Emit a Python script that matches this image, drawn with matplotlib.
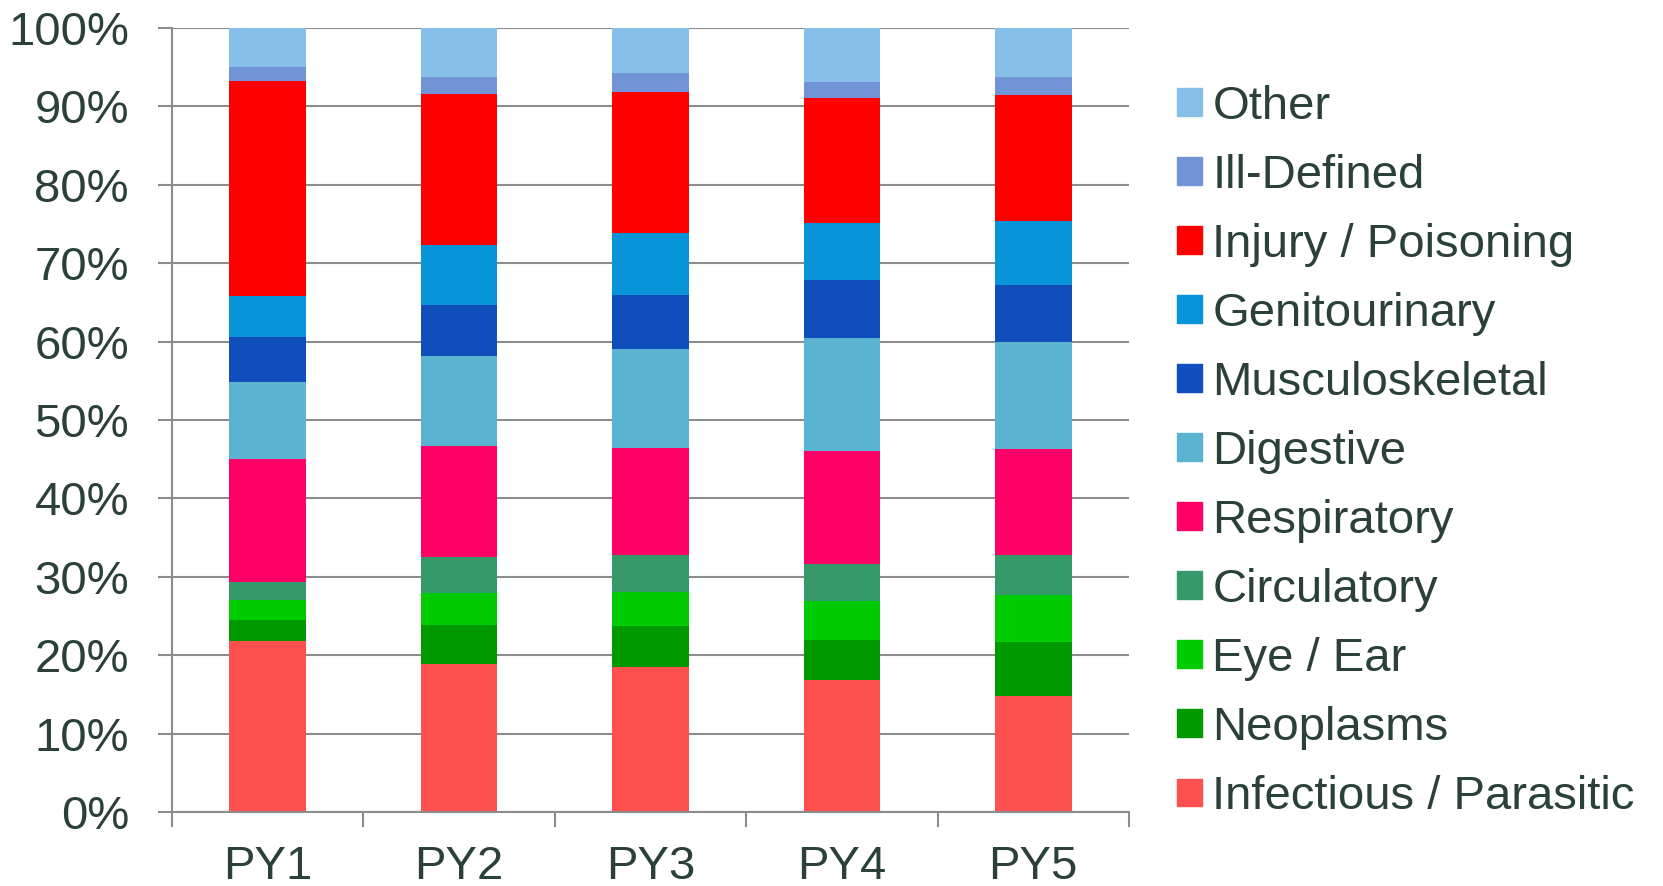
import numpy as np
import matplotlib
matplotlib.use("Agg")
import matplotlib.pyplot as plt
from matplotlib.patches import Patch
from matplotlib.ticker import FixedLocator, PercentFormatter

years = ["PY1", "PY2", "PY3", "PY4", "PY5"]

# share of each category per year, in percent (bottom of the stack first)
infectious = [21.8, 18.9, 18.5, 16.8, 14.8]
neoplasms = [2.7, 4.9, 5.2, 5.2, 6.9]
eye_ear = [2.6, 4.1, 4.3, 4.9, 6.0]
circulatory = [2.2, 4.6, 4.8, 4.7, 5.1]
respiratory = [15.7, 14.2, 13.6, 14.4, 13.5]
digestive = [9.9, 11.4, 12.7, 14.4, 13.6]
musculoskeletal = [5.7, 6.6, 6.9, 7.5, 7.3]
genitourinary = [5.2, 7.6, 7.9, 7.2, 8.2]
injury = [27.4, 19.3, 18.0, 16.0, 16.0]
ill_defined = [1.8, 2.1, 2.4, 2.0, 2.4]
other = [5.0, 6.3, 5.7, 6.9, 6.2]

labels = ["Infectious / Parasitic", "Neoplasms", "Eye / Ear", "Circulatory",
          "Respiratory", "Digestive", "Musculoskeletal", "Genitourinary",
          "Injury / Poisoning", "Ill-Defined", "Other"]
series = [infectious, neoplasms, eye_ear, circulatory, respiratory, digestive,
          musculoskeletal, genitourinary, injury, ill_defined, other]
colors = ["#FF5050", "#009900", "#00CC00", "#35996A", "#FF0066", "#5AB3D0",
          "#104EBC", "#0894D8", "#FF0000", "#7094D6", "#86C0E8"]

TEXT = "#2B403B"
GRID = "#8C8C8C"
FS = 34

plt.rcParams["font.family"] = ["Liberation Sans", "DejaVu Sans"]

fig = plt.figure(figsize=(16.63, 8.86), dpi=100)
ax = fig.add_axes([172 / 1663, 1 - 812 / 886, (1129 - 172) / 1663, (812 - 28) / 886])

# normalise so every column stacks to exactly 100%
data = np.array(series, dtype=float)
data = data / data.sum(axis=0) * 100
x = np.arange(len(years))
bottom = np.zeros(len(years))
for vals, col, lab in zip(data, colors, labels):
    ax.bar(x, vals, width=0.4, bottom=bottom, color=col, label=lab, zorder=2, linewidth=0)
    bottom += vals

ax.set_xlim(-0.5, len(years) - 0.5)
ax.set_ylim(0, 100)
ax.yaxis.set_major_locator(FixedLocator(np.arange(0, 101, 10)))
ax.yaxis.set_major_formatter(PercentFormatter(decimals=0))
ax.grid(axis="y", color=GRID, linewidth=1.5, zorder=0)

ax.set_xticks(x)
ax.set_xticklabels(years)
ax.xaxis.set_minor_locator(FixedLocator(np.arange(-0.5, len(years), 1)))
ax.tick_params(axis="x", which="major", length=0, pad=24, labelsize=FS, labelcolor=TEXT)
ax.tick_params(axis="x", which="minor", length=11, width=1.5, color=GRID, direction="out")
ax.tick_params(axis="y", length=10, width=1.5, color=GRID, pad=21, labelsize=FS, labelcolor=TEXT)

for side in ("top", "right"):
    ax.spines[side].set_visible(False)
for side in ("left", "bottom"):
    ax.spines[side].set_color(GRID)
    ax.spines[side].set_linewidth(1.5)

handles = [Patch(color=c, label=l) for c, l in zip(colors, labels)][::-1]
fig.legend(handles=handles, loc="upper left", bbox_to_anchor=(1158 / 1663, 1 - 66 / 886),
           frameon=False, fontsize=FS, handlelength=0.53, handleheight=0.53,
           handletextpad=0.22, labelspacing=0.53, labelcolor=TEXT, borderaxespad=0)

fig.savefig("out.png", dpi=100)
